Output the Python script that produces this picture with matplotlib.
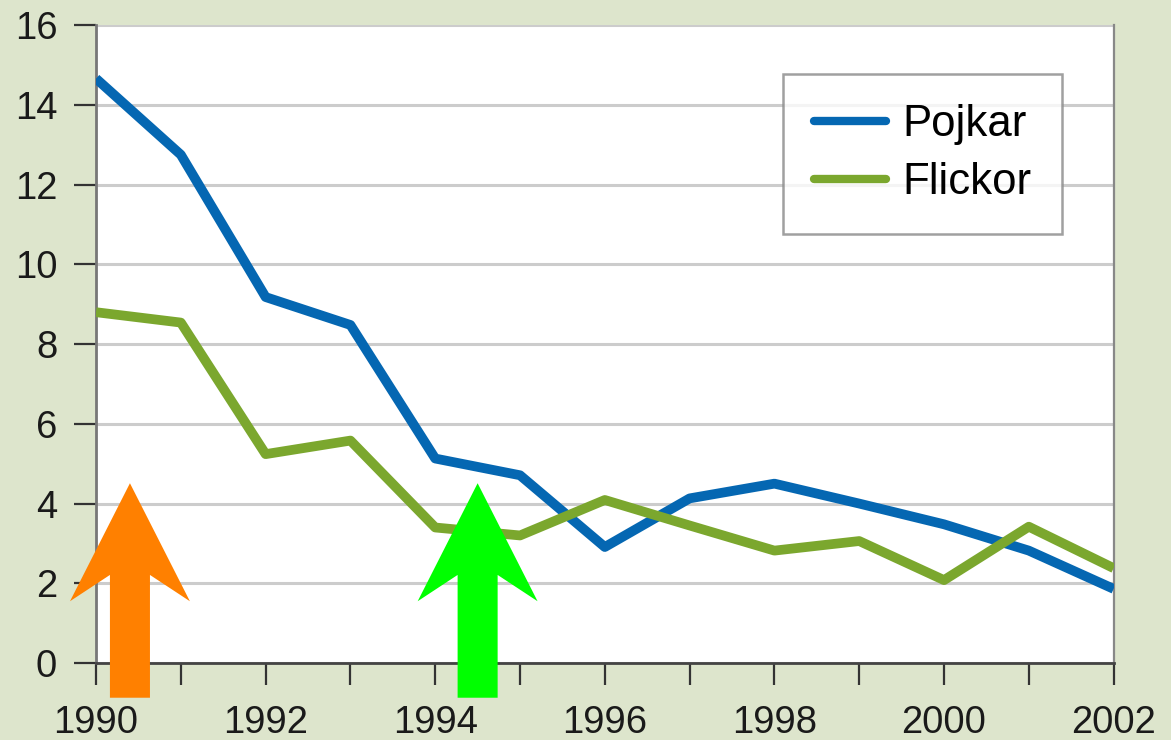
import matplotlib.pyplot as plt
from matplotlib.patches import Polygon

plt.rcParams['font.family'] = ['Liberation Sans', 'DejaVu Sans']

# Data
years = [1990, 1991, 1992, 1993, 1994, 1995, 1996, 1997, 1998, 1999, 2000, 2001, 2002]
pojkar = [14.66, 12.75, 9.18, 8.48, 5.13, 4.71, 2.91, 4.13, 4.50, 4.00, 3.48, 2.82, 1.86]
flickor = [8.80, 8.54, 5.24, 5.58, 3.40, 3.20, 4.09, 3.45, 2.82, 3.06, 2.08, 3.42, 2.38]
year_labels = [1990, 1992, 1994, 1996, 1998, 2000, 2002]
y_ticks = [0, 2, 4, 6, 8, 10, 12, 14, 16]

# overlay arrows: centre year
arrow_x = [1990.4, 1994.5]
arrow_colors = ['#ff8000', '#00ff00']

bg = '#dde5cc'
blue = '#0567b2'
green = '#7ba72e'

fig = plt.figure(figsize=(11.71, 7.4), dpi=100, facecolor=bg)
ax = fig.add_axes([0.082, 0.104, 0.869, 0.862])
ax.set_facecolor('white')

ax.plot(years, pojkar, color=blue, lw=7, solid_joinstyle='round',
        solid_capstyle='butt', label='Pojkar', zorder=3)
ax.plot(years, flickor, color=green, lw=7, solid_joinstyle='round',
        solid_capstyle='butt', label='Flickor', zorder=3)

ax.set_xlim(1990, 2002)
ax.set_ylim(0, 16)
ax.set_xticks(years)
ax.set_xticklabels([str(y) if y in year_labels else '' for y in years])
ax.set_yticks(y_ticks)
ax.yaxis.grid(True, color='#cccccc', lw=2.2, zorder=0)
ax.set_axisbelow(True)

ax.tick_params(axis='both', direction='out', length=16, width=1.6,
               color='#333333', labelsize=27.5, labelcolor='#1a1a1a')
ax.tick_params(axis='y', pad=12)
ax.tick_params(axis='x', pad=14)

ax.spines['top'].set_visible(False)
ax.spines['left'].set_color('#777777')
ax.spines['left'].set_linewidth(2)
ax.spines['bottom'].set_color('#444444')
ax.spines['bottom'].set_linewidth(2)
ax.spines['right'].set_color('#888888')
ax.spines['right'].set_linewidth(1.6)

leg = ax.legend(loc='upper left', bbox_to_anchor=(0.675, 0.924), fontsize=31.5,
                frameon=True, fancybox=False, handlelength=1.65, handletextpad=0.38,
                borderpad=0.7, labelspacing=0.38, borderaxespad=0)
leg.get_frame().set_edgecolor('#888888')
leg.get_frame().set_linewidth(1.8)
for h in leg.get_lines():
    h.set_solid_capstyle('round')
    h.set_linewidth(6)

# arrow shapes in data units
half_head = 0.707
half_shaft = 0.236
tip_y, barb_y, neck_y, foot_y = 4.51, 1.55, 2.21, -0.87
for cx, c in zip(arrow_x, arrow_colors):
    pts = [(cx, tip_y), (cx + half_head, barb_y), (cx + half_shaft, neck_y),
           (cx + half_shaft, foot_y), (cx - half_shaft, foot_y),
           (cx - half_shaft, neck_y), (cx - half_head, barb_y)]
    ax.add_patch(Polygon(pts, closed=True, facecolor=c, edgecolor='none',
                         clip_on=False, zorder=5))

fig.savefig('out.png', dpi=100, facecolor=bg)
